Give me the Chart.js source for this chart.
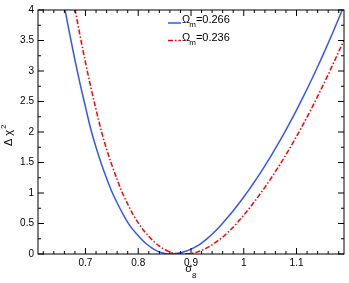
<!DOCTYPE html>
<html>
<head>
<meta charset="utf-8">
<script src="https://cdn.jsdelivr.net/npm/chart.js@4.4.1/dist/chart.umd.min.js"></script>
<style>
  html, body { margin: 0; padding: 0; background: #fff; }
  #wrap { width: 349px; height: 283px; position: relative; }
</style>
</head>
<body>
<div id="wrap"><canvas id="chi2-chart"></canvas></div>
<script>
// Delta chi^2 vs sigma_8 for two values of Omega_m
const sigma8Blue = [0.66, 0.67, 0.68, 0.69, 0.70, 0.71, 0.72, 0.73, 0.74, 0.75, 0.76, 0.77, 0.78, 0.79, 0.80,
  0.81, 0.82, 0.83, 0.84, 0.85, 0.86, 0.87, 0.88, 0.89, 0.90, 0.91, 0.92, 0.93, 0.94, 0.95, 0.96, 0.97, 0.98,
  0.99, 1.00, 1.01, 1.02, 1.03, 1.04, 1.05, 1.06, 1.07, 1.08, 1.09, 1.10, 1.11, 1.12, 1.13, 1.14, 1.15, 1.16,
  1.17, 1.18, 1.19];
const chi2Blue = [4.06, 3.61, 3.18, 2.78, 2.41, 2.05, 1.75, 1.48, 1.24, 1.02, 0.84, 0.67, 0.52, 0.40, 0.30,
  0.21, 0.135, 0.077, 0.035, 0.01, 0.0, 0.004, 0.019, 0.044, 0.08, 0.125, 0.18, 0.247, 0.325, 0.41, 0.505, 0.605, 0.71,
  0.82, 0.935, 1.055, 1.18, 1.31, 1.445, 1.585, 1.73, 1.88, 2.035, 2.195, 2.36, 2.53, 2.705, 2.885, 3.07, 3.26, 3.455,
  3.655, 3.86, 4.07];

const sigma8Red = [0.68, 0.69, 0.70, 0.71, 0.72, 0.73, 0.74, 0.75, 0.76, 0.77, 0.78, 0.79, 0.80, 0.81, 0.82,
  0.83, 0.84, 0.85, 0.86, 0.87, 0.88, 0.89, 0.90, 0.91, 0.92, 0.93, 0.94, 0.95, 0.96, 0.97, 0.98, 0.99, 1.00,
  1.01, 1.02, 1.03, 1.04, 1.05, 1.06, 1.07, 1.08, 1.09, 1.10, 1.11, 1.12, 1.13, 1.14, 1.15, 1.16, 1.17, 1.18,
  1.19, 1.20];
const chi2Red = [4.02, 3.57, 3.14, 2.74, 2.37, 2.02, 1.72, 1.46, 1.22, 1.00, 0.82, 0.65, 0.51, 0.39, 0.29,
  0.20, 0.13, 0.072, 0.032, 0.008, 0.0, 0.003, 0.01, 0.027, 0.058, 0.10, 0.15, 0.21, 0.275, 0.355, 0.44, 0.535, 0.637,
  0.743, 0.855, 0.971, 1.093, 1.219, 1.35, 1.487, 1.629, 1.775, 1.927, 2.083, 2.245, 2.411, 2.583, 2.759, 2.94, 3.127, 3.318,
  3.505, 3.70];

const omegaValues = ['0.266', '0.236'];
const xTickValues = [0.7, 0.8, 0.9, 1, 1.1];
const yTickValues = [0, 0.5, 1, 1.5, 2, 2.5, 3, 3.5, 4];

const FONT = '"Liberation Sans", Arial, Helvetica, sans-serif';

function toPoints(xs, ys) {
  return xs.map((x, i) => ({ x: x, y: ys[i] }));
}

// frame, inward ticks on all four sides, axis titles and legend
const framePlugin = {
  id: 'framePlugin',
  afterDraw(chart) {
    const ctx = chart.ctx;
    const a = chart.chartArea;
    const xs = chart.scales.x, ys = chart.scales.y;
    ctx.save();
    ctx.strokeStyle = '#000';
    ctx.lineWidth = 1;
    ctx.strokeRect(a.left, a.top, a.right - a.left, a.bottom - a.top);

    function ticks(scale, step, majorStep, horizontal) {
      for (let k = Math.ceil(scale.min / step - 1e-9); k * step <= scale.max + 1e-9; k++) {
        const v = k * step;
        const r = v / majorStep;
        const len = Math.abs(r - Math.round(r)) < 1e-6 ? 6 : 3;
        const p = scale.getPixelForValue(v);
        ctx.beginPath();
        if (horizontal) {
          ctx.moveTo(p, a.bottom); ctx.lineTo(p, a.bottom - len);
          ctx.moveTo(p, a.top); ctx.lineTo(p, a.top + len);
        } else {
          ctx.moveTo(a.left, p); ctx.lineTo(a.left + len, p);
          ctx.moveTo(a.right, p); ctx.lineTo(a.right - len, p);
        }
        ctx.stroke();
      }
    }
    ticks(xs, 0.02, 0.1, true);
    ticks(ys, 0.25, 0.5, false);

    ctx.fillStyle = '#000';
    ctx.textBaseline = 'alphabetic';

    // x title: sigma_8
    const cx = (a.left + a.right) / 2;
    ctx.font = '11px ' + FONT;
    ctx.textAlign = 'left';
    const sw = ctx.measureText('σ').width;
    ctx.fillText('σ', cx - sw + 1, a.bottom + 18);
    ctx.font = '8px ' + FONT;
    ctx.fillText('8', cx + 1, a.bottom + 24);

    // y title: Delta chi^2
    ctx.save();
    ctx.translate(12, (a.top + a.bottom) / 2 + 4);
    ctx.rotate(-Math.PI / 2);
    ctx.font = '11px ' + FONT;
    const t = 'Δ χ';
    const tw = ctx.measureText(t).width;
    ctx.fillText(t, -tw / 2 - 2, 0);
    ctx.font = '8px ' + FONT;
    ctx.fillText('2', tw / 2 - 1, -6);
    ctx.restore();

    // legend
    chart.data.datasets.forEach((ds, i) => {
      const y = a.top + 13 + i * 17.5;
      ctx.save();
      ctx.strokeStyle = ds.borderColor;
      ctx.lineWidth = ds.borderWidth;
      ctx.setLineDash(ds.borderDash || []);
      ctx.beginPath();
      ctx.moveTo(168, y);
      ctx.lineTo(181, y);
      ctx.stroke();
      ctx.restore();
      ctx.font = '11px ' + FONT;
      ctx.fillText('Ω', 182, y);
      const ow = ctx.measureText('Ω').width;
      ctx.font = '8px ' + FONT;
      ctx.fillText('m', 182 + ow - 1, y + 4);
      const mw = ctx.measureText('m').width;
      ctx.font = '11px ' + FONT;
      ctx.fillText('=' + omegaValues[i], 182 + ow - 1 + mw, y);
    });
    ctx.restore();
  }
};

function renderChart() {
  const canvas = document.getElementById('chi2-chart');
  if (!canvas || !window.Chart) return;
  Chart.defaults.font.family = FONT;
  Chart.defaults.color = '#000';
  new Chart(canvas, {
    type: 'line',
    data: {
      datasets: [
        {
          label: 'Ωm=0.266',
          data: toPoints(sigma8Blue, chi2Blue),
          borderColor: '#3355ff',
          borderWidth: 1.5,
          pointRadius: 0,
          cubicInterpolationMode: 'monotone',
          fill: false
        },
        {
          label: 'Ωm=0.236',
          data: toPoints(sigma8Red, chi2Red),
          borderColor: '#ff0000',
          borderWidth: 1.5,
          borderDash: [5, 2, 1.5, 2],
          pointRadius: 0,
          cubicInterpolationMode: 'monotone',
          fill: false
        }
      ]
    },
    options: {
      responsive: true,
      maintainAspectRatio: false,
      animation: false,
      layout: { padding: { left: 8, right: 5, top: 10, bottom: 9 } },
      plugins: { legend: { display: false }, tooltip: { enabled: false } },
      scales: {
        x: {
          type: 'linear',
          min: 0.61,
          max: 1.19,
          afterBuildTicks: s => { s.ticks = xTickValues.map(v => ({ value: v })); },
          afterFit: s => { s.height = 20; },
          ticks: { font: { size: 10 }, color: '#000', padding: 3, maxRotation: 0, autoSkip: false,
            callback: v => String(v) },
          grid: { display: false, drawTicks: false },
          border: { display: false }
        },
        y: {
          min: 0,
          max: 4,
          afterBuildTicks: s => { s.ticks = yTickValues.map(v => ({ value: v })); },
          afterFit: s => { s.width = 30; },
          ticks: { font: { size: 10 }, color: '#000', padding: 4, autoSkip: false,
            callback: v => String(v) },
          grid: { display: false, drawTicks: false },
          border: { display: false }
        }
      }
    },
    plugins: [framePlugin]
  });
}

renderChart();
</script>
</body>
</html>
